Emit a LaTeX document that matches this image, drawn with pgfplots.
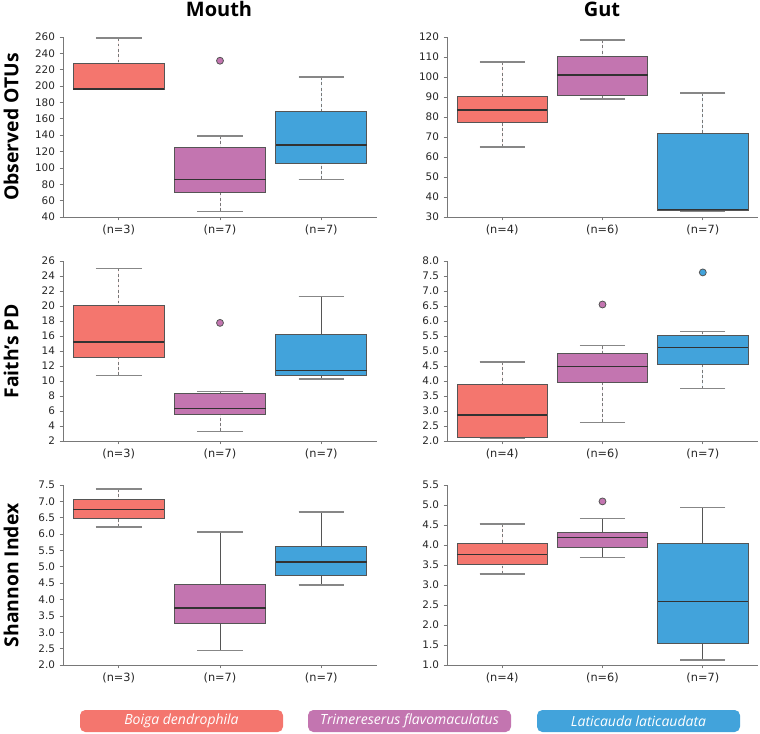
\documentclass[border=0pt]{standalone}
\usepackage{fontspec}
\setmainfont{DejaVu Sans}
\newfontfamily\osans{Open Sans}
\usepackage{pgfplots}
\pgfplotsset{compat=1.18}
\usepgfplotslibrary{statistics}
\definecolor{cB}{RGB}{244,118,110}
\definecolor{cT}{RGB}{195,117,176}
\definecolor{cL}{RGB}{66,163,219}
\definecolor{axgray}{RGB}{120,120,120}
\definecolor{boxedge}{RGB}{85,85,85}
\definecolor{medc}{RGB}{50,50,50}
\definecolor{whg}{RGB}{120,120,120}
\definecolor{capg}{RGB}{135,135,135}
\tikzset{
  capst/.style={draw=capg,line width=1.1pt,solid},
  wd/.style={draw=whg,line width=0.6pt,dash pattern=on 2.2pt off 1.8pt},
  ws/.style={draw=boxedge,line width=0.6pt,solid},
}
\pgfplotsset{
  panel/.style={
    scale only axis, height=135pt,
    axis lines*=left,
    axis line style={draw=axgray,line width=0.6pt},
    xmin=-0.55,xmax=2.55,xtick={0,1,2},
    tick align=outside, major tick length=2.5pt,
    tick style={draw=axgray,line width=0.6pt},
    yticklabel style={font=\fontsize{7.8}{9}\selectfont, text=black!85},
    xticklabel style={font=\fontsize{8.5}{10}\selectfont, text=black!85},
    /pgf/number format/assume math mode=true,
    clip=false,
    boxplot/draw direction=y,
    boxplot/box extend=0.9,
    boxplot/whisker extend=0.45,
    boxplot/draw/lower whisker/.code={%
      \draw[/pgfplots/boxplot/every whisker/.try]
        (boxplot box cs:\pgfplotsboxplotvalue{lower whisker},0.5) --
        (boxplot box cs:\pgfplotsboxplotvalue{lower quartile},0.5);
      \draw[capst]
        (boxplot whisker cs:\pgfplotsboxplotvalue{lower whisker},0) --
        (boxplot whisker cs:\pgfplotsboxplotvalue{lower whisker},1);
    },
    boxplot/draw/upper whisker/.code={%
      \draw[/pgfplots/boxplot/every whisker/.try]
        (boxplot box cs:\pgfplotsboxplotvalue{upper whisker},0.5) --
        (boxplot box cs:\pgfplotsboxplotvalue{upper quartile},0.5);
      \draw[capst]
        (boxplot whisker cs:\pgfplotsboxplotvalue{upper whisker},0) --
        (boxplot whisker cs:\pgfplotsboxplotvalue{upper whisker},1);
    },
    boxplot/every median/.style={draw=medc,line width=0.9pt,solid},
  },
  dec1/.style={yticklabel style={/pgf/number format/.cd,fixed,fixed zerofill,precision=1}},
  intl/.style={yticklabel style={/pgf/number format/.cd,fixed,precision=0}},
}
% color, whisker style, pos, lw, q1, med, q3, uw, outliers
\newcommand{\bx}[9]{%
 \addplot[boxplot prepared={draw position=#3, lower whisker=#4, lower quartile=#5,
     median=#6, upper quartile=#7, upper whisker=#8},
   boxplot/every whisker/.style={#2},
   draw=boxedge, fill=#1, line width=0.6pt, solid,
   mark=*, mark size=2.6pt, mark options={fill=#1,draw=boxedge,line width=0.6pt,solid}]
   coordinates {#9};}
\begin{document}
\begin{tikzpicture}
\useasboundingbox (0,0) rectangle (570pt,-550.5pt);
% ---------- Row 1: Observed OTUs ----------
\begin{axis}[panel, intl, at={(47.25pt,-162.75pt)}, anchor=south west, width=235.5pt,
  ymin=40, ymax=260, ytick={40,60,...,260}, xticklabels={(n=3),(n=7),(n=7)}]
  \bx{cB}{wd}{0}{196}{196.5}{196.5}{228}{258.5}{}
  \bx{cT}{wd}{1}{47}{70}{86}{125}{139}{(1,231)}
  \bx{cL}{wd}{2}{86}{106}{128}{169}{211}{}
\end{axis}
\begin{axis}[panel, intl, at={(335.25pt,-162.75pt)}, anchor=south west, width=233.25pt,
  ymin=30, ymax=120, ytick={30,40,...,120}, xticklabels={(n=4),(n=6),(n=7)}]
  \bx{cB}{wd}{0}{65}{77.5}{83.5}{90.5}{107.5}{}
  \bx{cT}{wd}{1}{89}{91}{101}{110.5}{118.5}{}
  \bx{cL}{wd}{2}{33}{33.5}{33.8}{72}{92}{}
\end{axis}
% ---------- Row 2: Faith's PD ----------
\begin{axis}[panel, intl, at={(47.25pt,-330.75pt)}, anchor=south west, width=235.5pt,
  ymin=2, ymax=26, ytick={2,4,...,26}, xticklabels={(n=3),(n=7),(n=7)}]
  \bx{cB}{wd}{0}{10.75}{13.15}{15.2}{20.1}{25.0}{}
  \bx{cT}{wd}{1}{3.3}{5.6}{6.35}{8.4}{8.6}{(1,17.75)}
  \bx{cL}{ws}{2}{10.25}{10.75}{11.45}{16.2}{21.3}{}
\end{axis}
\begin{axis}[panel, dec1, at={(335.25pt,-330.75pt)}, anchor=south west, width=233.25pt,
  ymin=2, ymax=8, ytick={2,2.5,...,8.01}, xticklabels={(n=4),(n=6),(n=7)}]
  \bx{cB}{wd}{0}{2.1}{2.12}{2.87}{3.88}{4.64}{}
  \bx{cT}{wd}{1}{2.62}{3.96}{4.48}{4.91}{5.18}{(1,6.55)}
  \bx{cL}{wd}{2}{3.75}{4.55}{5.11}{5.53}{5.65}{(2,7.62)}
\end{axis}
% ---------- Row 3: Shannon Index ----------
\begin{axis}[panel, dec1, at={(47.25pt,-498.75pt)}, anchor=south west, width=235.5pt,
  ymin=2, ymax=7.5, ytick={2,2.5,...,7.51}, xticklabels={(n=3),(n=7),(n=7)}]
  \bx{cB}{wd}{0}{6.22}{6.48}{6.74}{7.05}{7.38}{}
  \bx{cT}{ws}{1}{2.45}{3.26}{3.74}{4.47}{6.06}{}
  \bx{cL}{ws}{2}{4.45}{4.75}{5.15}{5.63}{6.68}{}
\end{axis}
\begin{axis}[panel, dec1, at={(335.25pt,-498.75pt)}, anchor=south west, width=233.25pt,
  ymin=1, ymax=5.5, ytick={1,1.5,...,5.51}, xticklabels={(n=4),(n=6),(n=7)}]
  \bx{cB}{wd}{0}{3.28}{3.51}{3.77}{4.05}{4.53}{}
  \bx{cT}{ws}{1}{3.69}{3.94}{4.19}{4.31}{4.66}{(1,5.09)}
  \bx{cL}{ws}{2}{1.13}{1.55}{2.58}{4.04}{4.94}{}
\end{axis}
% ---------- titles and labels ----------
\node[font=\osans\bfseries\fontsize{15}{18}\selectfont] at (164.25pt,-7pt) {Mouth};
\node[font=\osans\bfseries\fontsize{15}{18}\selectfont] at (451.5pt,-7pt) {Gut};
\node[rotate=90,font=\osans\bfseries\fontsize{14.5}{16}\selectfont] at (8.25pt,-95.25pt) {Observed OTUs};
\node[rotate=90,font=\osans\bfseries\fontsize{14.5}{16}\selectfont] at (8.25pt,-263.6pt) {Faith’s PD};
\node[rotate=90,font=\osans\bfseries\fontsize{14.5}{16}\selectfont] at (8.25pt,-431.6pt) {Shannon Index};
% ---------- legend ----------
\fill[cB, rounded corners=4pt] (60pt,-532.5pt) rectangle (212.25pt,-549pt);
\fill[cT, rounded corners=4pt] (231pt,-532.5pt) rectangle (383.25pt,-549pt);
\fill[cL, rounded corners=4pt] (402.75pt,-532.5pt) rectangle (555pt,-549pt);
\node[text=white,font=\osans\itshape\fontsize{10.5}{12}\selectfont] at (136.1pt,-540.75pt) {Boiga dendrophila};
\node[text=white,font=\osans\itshape\fontsize{10.5}{12}\selectfont] at (307.1pt,-540.75pt) {Trimereserus flavomaculatus};
\node[text=white,font=\osans\itshape\fontsize{10.5}{12}\selectfont] at (478.9pt,-540.75pt) {Laticauda laticaudata};
\end{tikzpicture}
\end{document}
